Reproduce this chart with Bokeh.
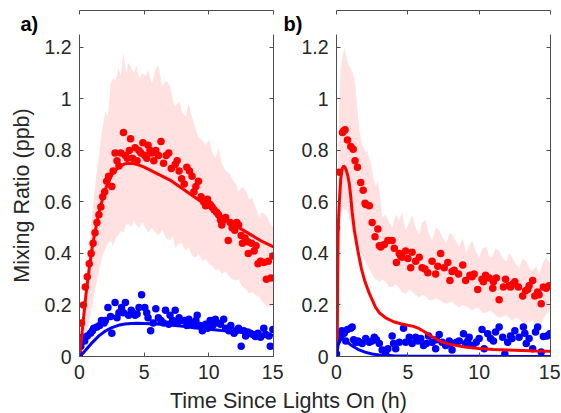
from bokeh.plotting import figure
from bokeh.models import Range1d, LinearAxis, FixedTicker, Label, Title
from bokeh.layouts import row, column
from bokeh.embed import file_html
from bokeh.resources import INLINE

# ---------------- data ----------------
x_ticks = [0, 5, 10, 15]
x_tick_labels = ["0", "5", "10", "15"]
y_ticks = [0, 0.2, 0.4, 0.6, 0.8, 1.0, 1.2]
y_tick_labels = ["0", "0.2", "0.4", "0.6", "0.8", "1", "1.2"]

# panel a: red measured
a_red_t = [0.0, 0.15, 0.3, 0.45, 0.6, 0.75, 0.9, 1.05, 1.2, 1.35, 1.5, 1.65, 1.8, 1.95, 2.1, 2.25,
           2.5, 2.6, 2.75, 2.9, 3.05, 3.2, 3.4, 3.55, 3.7, 3.85, 3.95, 4.1, 4.3, 4.45, 4.6, 4.75,
           4.9, 5.05, 5.2, 5.3, 5.45, 5.6, 5.75, 5.9, 6.1, 6.3, 6.5, 6.7, 6.9, 7.1, 7.4, 7.55,
           7.7, 7.9, 8.1, 8.3, 8.5, 8.7, 8.85, 9.0, 9.2, 9.4, 9.6, 9.75, 9.9, 10.1, 10.25, 10.4,
           10.6, 10.75, 10.9, 11.0, 11.15, 11.3, 11.5, 11.65, 11.8, 12.0, 12.15, 12.3, 12.5, 12.6,
           12.8, 13.0, 13.05, 13.3, 13.5, 13.65, 13.8, 14.0, 14.25, 14.45, 14.6, 14.8, 14.95]
a_red_v = [0.01, 0.13, 0.20, 0.27, 0.31, 0.36, 0.40, 0.44, 0.48, 0.52, 0.55, 0.58, 0.62, 0.64, 0.68, 0.70,
           0.66, 0.72, 0.79, 0.76, 0.74, 0.79, 0.87, 0.78, 0.77, 0.80, 0.845, 0.77, 0.81, 0.76, 0.80, 0.79,
           0.83, 0.78, 0.77, 0.82, 0.80, 0.79, 0.76, 0.80, 0.78, 0.835, 0.75, 0.78, 0.79, 0.73, 0.745, 0.76,
           0.72, 0.69, 0.67, 0.735, 0.72, 0.70, 0.64, 0.66, 0.68, 0.62, 0.60, 0.585, 0.61, 0.59, 0.58, 0.57,
           0.56, 0.55, 0.53, 0.51, 0.53, 0.54, 0.45, 0.52, 0.50, 0.49, 0.52, 0.51, 0.47, 0.44,
           0.46, 0.445, 0.40, 0.44, 0.41, 0.43, 0.36, 0.37, 0.365, 0.30, 0.37, 0.305, 0.39]

# panel a: blue measured
a_blue_t = [0.1, 0.25, 0.6, 0.85, 1.1, 1.35, 1.7, 1.9, 2.2, 2.4, 2.5, 2.75, 3.05, 3.25, 3.55, 3.8,
            4.1, 4.45, 4.8, 5.05, 5.3, 5.5, 5.9, 6.3, 6.65, 6.9, 7.4, 7.7, 8.1, 8.45, 8.85, 9.1,
            9.5, 9.75, 10.1, 10.5, 10.9, 11.15, 11.55, 11.95, 12.3, 12.5, 12.85, 13.2, 13.6, 14.0,
            14.25, 14.65, 14.75, 14.95, 0.4, 1.0, 1.55, 2.0, 2.9, 3.4, 4.0, 4.3, 4.6, 5.2, 5.7, 6.1,
            6.5, 7.0, 7.2, 7.55, 7.9, 8.3, 8.6, 9.0, 9.3, 9.9, 10.3, 10.7, 11.3, 11.7, 12.1, 12.7,
            13.0, 13.4, 13.8, 14.4]
a_blue_v = [0.04, 0.075, 0.08, 0.09, 0.11, 0.115, 0.14, 0.13, 0.19, 0.155, 0.09, 0.21, 0.17, 0.19, 0.21, 0.16,
            0.17, 0.165, 0.24, 0.19, 0.15, 0.10, 0.185, 0.14, 0.18, 0.125, 0.18, 0.15, 0.14, 0.145, 0.12, 0.16,
            0.10, 0.125, 0.14, 0.145, 0.125, 0.145, 0.10, 0.09, 0.11, 0.04, 0.08, 0.09, 0.078, 0.075,
            0.11, 0.08, 0.04, 0.105, 0.06, 0.10, 0.12, 0.14, 0.15, 0.17, 0.18, 0.16, 0.19, 0.17, 0.13, 0.15,
            0.13, 0.16, 0.14, 0.13, 0.14, 0.12, 0.13, 0.14, 0.12, 0.11, 0.12, 0.13, 0.11, 0.12, 0.10, 0.10,
            0.095, 0.085, 0.09, 0.085]

# panel a: model curves
a_red_model_t = [0, 0.25, 0.5, 0.75, 1, 1.5, 2, 2.5, 3, 3.5, 4, 4.5, 5, 6, 7, 8, 9, 10, 11, 12, 13, 14, 15]
a_red_model_v = [0, 0.12, 0.24, 0.34, 0.43, 0.56, 0.65, 0.705, 0.735, 0.748, 0.75, 0.745, 0.735, 0.71,
                 0.685, 0.65, 0.615, 0.58, 0.545, 0.51, 0.48, 0.45, 0.425]
a_blue_model_t = [0, 0.25, 0.5, 0.75, 1, 1.5, 2, 2.5, 3, 3.5, 4, 4.5, 5, 6, 7, 8, 9, 10, 11, 12, 13, 14, 15]
a_blue_model_v = [0, 0.012, 0.026, 0.041, 0.055, 0.080, 0.099, 0.112, 0.121, 0.126, 0.128, 0.129, 0.128,
                  0.126, 0.122, 0.117, 0.111, 0.106, 0.101, 0.096, 0.091, 0.087, 0.082]

# panel a: red variability band
a_band_t = [0.0, 0.25, 0.5, 0.75, 1.0, 1.25, 1.5, 1.75, 2.0, 2.2, 2.4, 2.6, 2.8, 3.0, 3.2, 3.4, 3.6, 3.8,
            4.0, 4.2, 4.4, 4.6, 4.85, 5.1, 5.3, 5.6, 5.9, 6.1, 6.4, 6.7, 7.0, 7.2, 7.4, 7.7, 7.9, 8.2,
            8.45, 8.7, 9.0, 9.2, 9.5, 9.75, 10.0, 10.3, 10.5, 10.75, 11.0, 11.3, 11.6, 11.8, 12.1, 12.3,
            12.6, 12.9, 13.1, 13.35, 13.6, 13.9, 14.1, 14.4, 14.7, 15.0]
a_band_lo = [0.0, 0.03, 0.08, 0.14, 0.20, 0.27, 0.33, 0.385, 0.42, 0.44, 0.45, 0.43, 0.46, 0.47, 0.49, 0.48,
             0.51, 0.515, 0.50, 0.53, 0.51, 0.50, 0.52, 0.50, 0.48, 0.50, 0.48, 0.47, 0.49, 0.46, 0.45, 0.47,
             0.42, 0.44, 0.44, 0.41, 0.425, 0.39, 0.385, 0.40, 0.37, 0.38, 0.36, 0.35, 0.335, 0.34, 0.32,
             0.33, 0.31, 0.30, 0.295, 0.30, 0.27, 0.26, 0.245, 0.25, 0.24, 0.23, 0.215, 0.20, 0.19, 0.20]
a_band_hi = [0.0, 0.15, 0.30, 0.42, 0.56, 0.68, 0.78, 0.88, 0.95, 0.93, 1.06, 1.08, 1.07, 1.12, 1.09, 1.18,
             1.10, 1.14, 1.12, 1.10, 1.13, 1.08, 1.10, 1.09, 1.11, 1.06, 1.12, 1.13, 1.05, 1.07, 1.05, 1.00,
             0.97, 0.99, 0.955, 0.93, 0.98, 0.93, 0.88, 0.85, 0.84, 0.82, 0.84, 0.79, 0.77, 0.81, 0.75,
             0.72, 0.71, 0.69, 0.67, 0.64, 0.66, 0.64, 0.61, 0.615, 0.58, 0.54, 0.56, 0.55, 0.52, 0.50]

# panel b: red measured
b_red_t = [0.0, 0.19, 0.42, 0.6, 0.77, 1.0, 1.17, 1.3, 1.47, 1.7, 1.87, 2.0, 2.3, 2.5, 2.7, 2.9,
           3.1, 3.35, 3.6, 3.9, 4.05, 4.2, 4.4, 4.6, 4.85, 5.2, 5.3, 5.55, 5.8, 6.0, 6.4, 6.7,
           6.95, 7.3, 7.55, 7.8, 7.95, 8.25, 8.55, 8.85, 9.05, 9.35, 9.65, 9.9, 10.2, 10.45, 10.7, 10.95,
           11.2, 11.4, 11.7, 11.85, 12.1, 12.35, 12.5, 12.75, 13.05, 13.25, 13.5, 13.75, 13.9, 14.1, 14.35,
           14.5, 14.7, 14.9, 0.5, 2.05, 3.0, 4.5, 5.0, 6.2, 7.1, 8.1, 9.5, 10.3, 11.0, 12.2, 13.4, 14.2]
b_red_v = [0.50, 0.715, 0.87, 0.88, 0.84, 0.815, 0.805, 0.76, 0.735, 0.675, 0.645, 0.595, 0.585, 0.52, 0.465, 0.495,
           0.425, 0.435, 0.45, 0.45, 0.42, 0.365, 0.40, 0.385, 0.41, 0.345, 0.405, 0.37, 0.385, 0.345, 0.325, 0.37,
           0.32, 0.40, 0.345, 0.365, 0.295, 0.335, 0.32, 0.355, 0.295, 0.315, 0.32, 0.26, 0.30, 0.315, 0.305, 0.265,
           0.305, 0.22, 0.27, 0.30, 0.275, 0.28, 0.29, 0.27, 0.235, 0.255, 0.275, 0.295, 0.235, 0.25, 0.205,
           0.27, 0.265, 0.275, 0.875, 0.59, 0.43, 0.39, 0.38, 0.34, 0.35, 0.33, 0.31, 0.29, 0.29, 0.27, 0.26, 0.24]

# panel b: blue measured
b_blue_t = [0.0, 0.07, 0.23, 0.37, 0.54, 0.77, 1.0, 1.1, 1.35, 1.6, 1.8, 2.05, 2.3, 2.65, 3.0, 3.2,
            3.45, 3.6, 3.9, 4.15, 4.4, 4.7, 4.85, 5.1, 5.3, 5.55, 5.9, 6.1, 6.45, 6.7, 6.95, 7.2,
            7.4, 7.65, 7.9, 8.1, 8.4, 8.6, 8.9, 9.05, 9.3, 9.55, 9.8, 10.2, 10.35, 10.6, 10.8, 11.15,
            11.4, 11.65, 11.8, 12.0, 12.2, 12.5, 12.8, 13.1, 13.3, 13.5, 13.75, 13.95, 14.1, 14.35, 14.5,
            14.75, 14.95, 0.15, 0.3, 0.65, 1.2, 1.5, 2.5, 2.8, 4.0, 5.7, 6.3, 7.0, 8.0, 9.2, 10.0, 11.0, 12.3, 13.2]
b_blue_v = [0.01, 0.06, 0.09, 0.10, 0.09, 0.105, 0.11, 0.115, 0.055, 0.055, 0.05, 0.07, 0.055, 0.075, 0.05, 0.025,
            0.017, 0.03, 0.08, 0.03, 0.055, 0.11, 0.055, 0.075, 0.05, 0.075, 0.07, 0.043, 0.08, 0.055, 0.03, 0.085,
            0.055, 0.043, 0.06, 0.025, 0.055, 0.06, 0.088, 0.05, 0.075, 0.043, 0.055, 0.105, 0.03, 0.088, 0.07, 0.095,
            0.115, 0.075, 0.01, 0.055, 0.08, 0.10, 0.075, 0.115, 0.05, 0.07, 0.03, 0.095, 0.115, 0.017, 0.078,
            0.08, 0.088, 0.07, 0.08, 0.06, 0.065, 0.06, 0.06, 0.065, 0.05, 0.06, 0.05, 0.065, 0.05, 0.06, 0.07, 0.06, 0.07, 0.09]

# panel b: model curves
b_red_model_t = [0, 0.05, 0.08, 0.12, 0.2, 0.3, 0.4, 0.5, 0.6, 0.7, 0.8, 0.9, 1.0, 1.1, 1.25, 1.5, 1.75,
                 2.0, 2.3, 2.75, 3.0, 3.45, 4.0, 4.5, 5.0, 5.4, 5.8, 6.2, 6.5, 7.0, 7.4, 8.0, 9.0, 10.0,
                 11.0, 12.0, 13.0, 14.0, 15.0]
b_red_model_v = [0.01, 0.02, 0.30, 0.50, 0.60, 0.69, 0.73, 0.74, 0.735, 0.72, 0.70, 0.67, 0.62, 0.56, 0.49,
                 0.41, 0.34, 0.29, 0.245, 0.19, 0.17, 0.15, 0.135, 0.127, 0.121, 0.117, 0.108, 0.095, 0.083,
                 0.068, 0.056, 0.047, 0.037, 0.031, 0.027, 0.025, 0.023, 0.021, 0.02]
b_blue_model_t = [0, 0.1, 0.2, 0.3, 0.5, 0.75, 1.0, 1.5, 2.0, 2.5, 3.0, 4.0, 5.0, 7.0, 10.0, 15.0]
b_blue_model_v = [0.0, 0.04, 0.062, 0.07, 0.068, 0.056, 0.045, 0.028, 0.017, 0.010, 0.006, 0.003, 0.002,
                  0.001, 0.0005, 0.0]

# panel b: red variability band
b_band_t = [0.0, 0.1, 0.2, 0.3, 0.45, 0.55, 0.7, 0.85, 1.0, 1.15, 1.3, 1.45, 1.6, 1.8, 2.0, 2.2, 2.4,
            2.6, 2.75, 2.9, 3.05, 3.2, 3.45, 3.7, 3.9, 4.15, 4.4, 4.6, 4.85, 5.1, 5.3, 5.55, 5.8, 6.0,
            6.25, 6.45, 6.7, 6.95, 7.2, 7.45, 7.7, 7.95, 8.1, 8.35, 8.6, 8.85, 9.1, 9.3, 9.5, 9.75,
            10.0, 10.25, 10.5, 10.7, 10.9, 11.15, 11.4, 11.65, 11.9, 12.1, 12.3, 12.55, 12.8, 13.05,
            13.3, 13.55, 13.75, 14.0, 14.2, 14.45, 14.7, 14.85, 15.0]
b_band_lo = [0.0, 0.30, 0.50, 0.56, 0.58, 0.57, 0.57, 0.55, 0.52, 0.49, 0.47, 0.44, 0.42, 0.39, 0.37, 0.35,
             0.33, 0.31, 0.30, 0.295, 0.29, 0.30, 0.29, 0.27, 0.27, 0.28, 0.265, 0.25, 0.243, 0.26, 0.25,
             0.24, 0.23, 0.24, 0.235, 0.22, 0.217, 0.225, 0.22, 0.21, 0.205, 0.21, 0.215, 0.20, 0.19, 0.20,
             0.195, 0.185, 0.18, 0.19, 0.185, 0.17, 0.17, 0.18, 0.175, 0.16, 0.15, 0.155, 0.16, 0.15, 0.14,
             0.15, 0.145, 0.13, 0.127, 0.135, 0.14, 0.12, 0.114, 0.14, 0.165, 0.17, 0.19]
b_band_hi = [0.0, 0.70, 1.00, 1.12, 1.17, 1.20, 1.16, 1.13, 1.12, 1.10, 1.06, 0.97, 0.88, 0.82, 0.80, 0.79,
             0.75, 0.69, 0.66, 0.68, 0.62, 0.54, 0.55, 0.52, 0.50, 0.55, 0.53, 0.56, 0.49, 0.52, 0.55,
             0.50, 0.475, 0.52, 0.53, 0.48, 0.45, 0.50, 0.49, 0.46, 0.44, 0.48, 0.475, 0.45, 0.425, 0.46,
             0.40, 0.43, 0.45, 0.41, 0.385, 0.42, 0.425, 0.39, 0.385, 0.42, 0.41, 0.38, 0.37, 0.40, 0.385,
             0.36, 0.345, 0.38, 0.37, 0.34, 0.335, 0.35, 0.32, 0.36, 0.385, 0.37, 0.36]

# ---------------- styling ----------------
FONT = "Liberation Sans"
RED = "#ff0000"
BLUE = "#0000ff"
BAND = "#ffe1e1"
AXC = "#262626"
LINEC = "#4d4d4d"
TICK_FS = "19.5px"
LABEL_FS = "21.5px"


def make_panel(width, border_left, border_right, show_ylabel, tag, tag_offset):
    p = figure(width=width, height=388, output_backend="svg", toolbar_location=None,
               x_range=Range1d(0, 15), y_range=Range1d(0, 1.25),
               min_border_left=border_left, min_border_right=border_right,
               min_border_top=34, min_border_bottom=32,
               x_axis_location=None, y_axis_location=None)
    p.grid.visible = False
    p.outline_line_color = None
    p.background_fill_color = "white"
    p.border_fill_color = "white"

    t = Title(text=tag, align="left", offset=tag_offset, standoff=0,
              text_font=FONT, text_font_size="20px", text_font_style="bold",
              text_color="black")
    p.add_layout(t, "above")

    def base_axis(ax):
        ax.axis_line_color = LINEC
        ax.axis_line_width = 1
        ax.major_tick_line_color = LINEC
        ax.major_tick_in = 4
        ax.major_tick_out = 0
        ax.minor_tick_line_color = None
        ax.major_label_text_color = AXC
        ax.major_label_text_font = FONT
        ax.major_label_text_font_size = TICK_FS

    xb = LinearAxis(ticker=FixedTicker(ticks=x_ticks),
                    major_label_overrides=dict(zip(x_ticks, x_tick_labels)))
    base_axis(xb)
    xb.major_label_standoff = 8
    p.add_layout(xb, "below")

    yl = LinearAxis(ticker=FixedTicker(ticks=y_ticks),
                    major_label_overrides=dict(zip(y_ticks, y_tick_labels)))
    base_axis(yl)
    yl.major_label_standoff = 8
    if show_ylabel:
        yl.axis_label = "Mixing Ratio (ppb)"
        yl.axis_label_text_font = FONT
        yl.axis_label_text_font_size = LABEL_FS
        yl.axis_label_text_font_style = "normal"
        yl.axis_label_text_color = AXC
        yl.axis_label_standoff = 7
    p.add_layout(yl, "left")

    xt = LinearAxis(ticker=FixedTicker(ticks=x_ticks),
                    major_label_overrides={v: "" for v in x_ticks})
    base_axis(xt)
    xt.major_label_text_font_size = "0px"
    xt.major_label_standoff = 0
    xt.axis_label_standoff = 0
    p.add_layout(xt, "above")

    yr = LinearAxis(ticker=FixedTicker(ticks=y_ticks),
                    major_label_overrides={v: "" for v in y_ticks})
    base_axis(yr)
    yr.major_label_text_font_size = "0px"
    yr.major_label_standoff = 0
    yr.axis_label_standoff = 0
    p.add_layout(yr, "right")
    return p


def draw(p, band_t, band_lo, band_hi, red_t, red_v, blue_t, blue_v,
         rm_t, rm_v, bm_t, bm_v):
    p.varea(x=band_t, y1=band_lo, y2=band_hi, fill_color=BAND, fill_alpha=1.0)
    p.scatter(red_t, red_v, size=7.5, fill_color=RED, line_color=None, marker="circle")
    p.scatter(blue_t, blue_v, size=7.5, fill_color=BLUE, line_color=None, marker="circle")
    p.line(rm_t, rm_v, line_color=RED, line_width=3)
    p.line(bm_t, bm_v, line_color=BLUE, line_width=3)


pa = make_panel(283, 79, 10, True, "a)", -59)
draw(pa, a_band_t, a_band_lo, a_band_hi, a_red_t, a_red_v, a_blue_t, a_blue_v,
     a_red_model_t, a_red_model_v, a_blue_model_t, a_blue_model_v)

pb = make_panel(277, 53, 10, False, "b)", -53)
draw(pb, b_band_t, b_band_lo, b_band_hi, b_red_t, b_red_v, b_blue_t, b_blue_v,
     b_red_model_t, b_red_model_v, b_blue_model_t, b_blue_model_v)

px = figure(width=560, height=25, output_backend="svg", toolbar_location=None,
            x_range=Range1d(0, 560), y_range=Range1d(0, 25), min_border=0,
            x_axis_location=None, y_axis_location=None)
px.grid.visible = False
px.outline_line_color = None
px.add_layout(Label(x=288, y=13, text="Time Since Lights On (h)", text_font=FONT,
                    text_font_size=LABEL_FS, text_color=AXC, text_align="center",
                    text_baseline="alphabetic"))

layout = column(row(pa, pb), px)
open("out.html", "w").write(file_html(layout, INLINE))
